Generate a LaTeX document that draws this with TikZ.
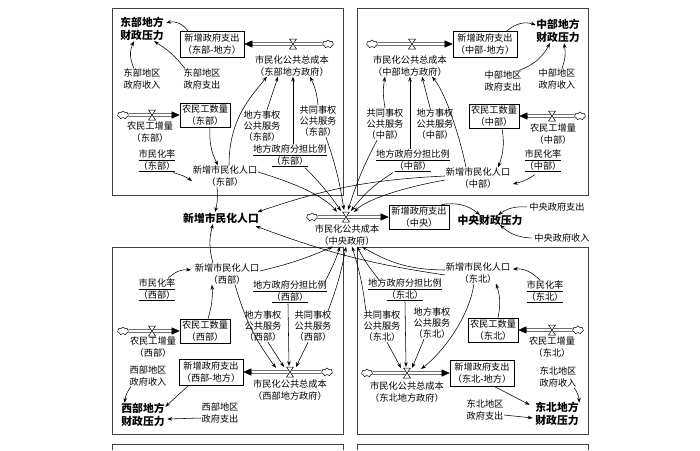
\documentclass[tikz,border=0pt]{standalone}
\usepackage{fontspec}
\setmainfont{Noto Sans CJK SC}
\usetikzlibrary{arrows.meta,shapes.symbols,calc}
\newcommand\sdpipe[2]{\draw[pipe,shorten >=6pt] (#1) -- (#2);\draw[-{Triangle[length=8pt,width=7pt]},line width=0.5pt] ($(#2)!8pt!(#1)$) -- (#2);}
\newcommand\sdvalve[1]{\draw[fill=white,line width=0.5pt] ($(#1)+(-3.5,-5)$) -- ++(7,0) -- ++(-7,10) -- ++(7,0) -- cycle;}
\begin{document}
\begin{tikzpicture}[x=1pt,y=-1pt,
  txt/.style={align=center,font=\fontsize{9.2}{11.2}\selectfont,inner sep=0.5pt},
  bld/.style={align=center,font=\fontsize{10.8}{12.5}\selectfont\bfseries,inner sep=0.5pt},
  box/.style={txt,draw,line width=0.6pt,minimum width=64pt,minimum height=26pt},
  wbox/.style={txt,draw,line width=0.6pt,minimum width=50pt,minimum height=24pt},
  arr/.style={-{Stealth[length=5pt,width=3.6pt]},line width=0.55pt},
  frame/.style={draw=black!75,line width=0.7pt},
  pipe/.style={double,double distance=2.2pt,line width=0.5pt},
  cl/.style={cloud,draw,cloud puffs=7,aspect=1.5,minimum width=11pt,minimum height=8pt,inner sep=0pt,fill=white,line width=0.5pt}]
\useasboundingbox (0,0) rectangle (700,450);
% frames
\draw[frame] (112,8) rectangle (343,195);
\draw[frame] (357,8) rectangle (588,195);
\draw[frame] (112,247) rectangle (343,434);
\draw[frame] (357,247) rectangle (588,434);
\draw[frame] (112,450) -- (112,444) -- (343,444) -- (343,450);
\draw[frame] (357,450) -- (357,444) -- (588,444) -- (588,450);

% ---------- East (东部)
\node[bld] (edpress) at (142,29) {东部地方\\财政压力};
\node[box] (edbox) at (212,44) {新增政府支出\\（东部-地方）};
\node[cl] (edcl) at (328,44) {};
\coordinate (edv) at (293,44);
\node[txt] (edcost) at (292,66) {市民化公共总成本\\（东部地方政府）};
\node[txt] (edrev) at (142,79) {东部地区\\政府收入};
\node[txt] (edexp) at (202,79) {东部地区\\政府支出};
\node[wbox] (edw) at (205,115) {农民工数量\\（东部）};
\node[cl] (edcl2) at (123,115) {};
\coordinate (edwv) at (152,115);
\node[txt] (edinc) at (150,132) {农民工增量\\（东部）};
\node[txt] (edloc) at (262,126) {地方事权\\公共服务\\（东部）};
\node[txt] (edsh) at (318,121) {共同事权\\公共服务\\（东部）};
\node[txt] (edrat) at (290,156) {\underline{地方政府分担比例}\\\underline{（东部）}};
\node[txt] (edurb) at (157,161) {\underline{市民化率}\\\underline{（东部）}};
\node[txt] (edpop) at (225,176) {新增市民化人口\\（东部）};

% ---------- Central region (中部)
\node[bld] (cpress) at (558,31) {中部地方\\财政压力};
\node[box] (cbox) at (485,44) {新增政府支出\\（中部-地方）};
\node[cl] (ccl) at (372,44) {};
\coordinate (cv1) at (412,44);
\node[txt] (ccost) at (410,66) {市民化公共总成本\\（中部地方政府）};
\node[txt] (cexp) at (503,81) {中部地区\\政府支出};
\node[txt] (crev) at (557,79) {中部地区\\政府收入};
\node[wbox] (cw) at (494,116) {农民工数量\\（中部）};
\node[cl] (ccl2) at (580,116) {};
\coordinate (cwv) at (552,116);
\node[txt] (cinc) at (553,134) {农民工增量\\（中部）};
\node[txt] (csh) at (385,124) {共同事权\\公共服务\\（中部）};
\node[txt] (cloc) at (435,124) {地方事权\\公共服务\\（中部）};
\node[txt] (crat) at (413,161) {\underline{地方政府分担比例}\\\underline{（中部）}};
\node[txt] (cpop) at (478,178) {新增市民化人口\\（中部）};
\node[txt] (curb) at (543,161) {\underline{市民化率}\\\underline{（中部）}};

% ---------- Centre (中央)
\node[bld] (pop) at (221,218) {新增市民化人口};
\node[cl] (zcl) at (312,217) {};
\coordinate (zv) at (346,217);
\node[txt] (zcost) at (347,235) {市民化公共成本\\（中央政府）};
\node[txt,draw,line width=0.6pt,minimum width=60pt,minimum height=24pt] (zbox) at (419,217) {新增政府支出\\（中央）};
\node[bld] (zpress) at (490,220) {中央财政压力};
\node[txt] (zexp) at (557,207) {中央政府支出};
\node[txt] (zrev) at (562,238) {中央政府收入};

% ---------- West (西部)
\node[txt] (wpop) at (227,274) {新增市民化人口\\（西部）};
\node[txt] (wurb) at (157,290) {\underline{市民化率}\\\underline{（西部）}};
\node[txt] (wrat) at (290,292) {\underline{地方政府分担比例}\\\underline{（西部）}};
\node[txt] (wloc) at (263,326) {地方事权\\公共服务\\（西部）};
\node[txt] (wsh) at (313,326) {共同事权\\公共服务\\（西部）};
\node[wbox] (ww) at (205,331) {农民工数量\\（西部）};
\node[cl] (wcl2) at (123,331) {};
\coordinate (wwv) at (152,331);
\node[txt] (winc) at (153,347) {农民工增量\\（西部）};
\node[box] (wbox) at (211,372) {新增政府支出\\（西部-地方）};
\node[cl] (wcl) at (327,372) {};
\coordinate (wv) at (290,372);
\node[txt] (wcost) at (290,390) {市民化公共总成本\\（西部地方政府）};
\node[txt] (wrev) at (148,376) {西部地区\\政府收入};
\node[bld] (wpress) at (143,415) {西部地方\\财政压力};
\node[txt] (wexp) at (220,413) {西部地区\\政府支出};

% ---------- Northeast (东北)
\node[txt] (npop) at (478,273) {新增市民化人口\\（东北）};
\node[txt] (nurb) at (545,292) {\underline{市民化率}\\\underline{（东北）}};
\node[txt] (nrat) at (405,290) {\underline{地方政府分担比例}\\\underline{（东北）}};
\node[txt] (nsh) at (382,326) {共同事权\\公共服务\\（东北）};
\node[txt] (nloc) at (432,323) {地方事权\\公共服务\\（东北）};
\node[wbox] (nw) at (493,330) {农民工数量\\（东北）};
\node[cl] (ncl2) at (578,330) {};
\coordinate (nwv) at (552,330);
\node[txt] (ninc) at (552,347) {农民工增量\\（东北）};
\node[box] (nbox) at (482,373) {新增政府支出\\（东北-地方）};
\node[cl] (ncl) at (367,373) {};
\coordinate (nv) at (407,373);
\node[txt] (ncost) at (407,392) {市民化公共总成本\\（东北地方政府）};
\node[txt] (nrev) at (558,377) {东北地区\\政府收入};
\node[bld] (npress) at (557,414) {东北地方\\财政压力};
\node[txt] (nexp) at (485,410) {东北地区\\政府支出};

% ---------- pipes and valves
\sdpipe{edcl}{edbox.east} \sdvalve{edv}
\sdpipe{edcl2}{edw.west} \sdvalve{edwv}
\sdpipe{ccl}{cbox.west} \sdvalve{cv1}
\sdpipe{ccl2}{cw.east} \sdvalve{cwv}
\sdpipe{zcl}{zbox.west} \sdvalve{zv}
\sdpipe{wcl2}{ww.west} \sdvalve{wwv}
\sdpipe{wcl}{wbox.east} \sdvalve{wv}
\sdpipe{ncl2}{nw.east} \sdvalve{nwv}
\sdpipe{ncl}{nbox.west} \sdvalve{nv}

% ---------- East connectors
\draw[arr] ($(edbox.north west)+(8,0)$) to[bend right=35] ($(edpress.east)+(2,-6)$);
\draw[arr] ($(edrev.north)+(-8,0)$) to[bend left=25] ($(edpress.south)+(-8,0)$);
\draw[arr] ($(edexp.north west)+(2,0)$) to[bend right=10] ($(edpress.south)+(12,0)$);
\draw[arr] ($(edw.south)+(5,0)$) to[bend right=15] ($(edpop.north)+(-7,0)$);
\draw[arr] ($(edurb.south east)+(-3,0)$) to[bend left=10] ($(edpop.west)+(0,5)$);
\draw[arr] ($(edpop.north)+(4,0)$) .. controls +(0,-45) and +(-18,22) .. ($(edcost.south)+(-25,0)$);
\draw[arr] ($(edloc.north)+(5,0)$) -- ($(edcost.south)+(-14,0)$);
\draw[arr] ($(edrat.north)+(3,0)$) -- ($(edcost.south)+(1,0)$);
\draw[arr] (edsh.north) to[bend right=10] ($(edcost.south)+(18,0)$);
\draw[arr] ($(edpop.south)+(-8,0)$) to[bend left=10] ($(pop.north)+(-6,0)$);
\draw[arr] ($(edpop.east)+(0,-4)$) .. controls +(40,12) and +(-12,-15) .. ($(zv)+(-9,-5)$);
\draw[arr] ($(edrat.south)+(15,0)$) to[bend left=5] ($(zv)+(-5,-6)$);
\draw[arr] ($(edsh.south)+(8,0)$) to[bend left=5] ($(zv)+(-2,-7)$);

% ---------- Central region connectors
\draw[arr] ($(cbox.north east)+(-10,0)$) to[bend left=30] ($(cpress.west)+(0,-6)$);
\draw[arr] ($(cexp.north east)+(-3,0)$) to[bend right=20] ($(cpress.south)+(-8,0)$);
\draw[arr] ($(crev.north)+(5,0)$) to[bend right=15] ($(cpress.south)+(6,0)$);
\draw[arr] ($(cw.south)+(8,0)$) to[bend left=15] ($(cpop.north)+(20,0)$);
\draw[arr] ($(curb.south)+(-8,2)$) to[bend left=10] ($(cpop.east)+(2,6)$);
\draw[arr] ($(cpop.north)+(-12,0)$) .. controls +(-5,-25) and +(15,18) .. ($(ccost.south)+(22,0)$);
\draw[arr] ($(cloc.north)+(-5,0)$) -- ($(ccost.south)+(12,0)$);
\draw[arr] ($(crat.north)+(-3,0)$) -- (ccost.south);
\draw[arr] (csh.north) to[bend left=10] ($(ccost.south)+(-25,0)$);
\draw[arr] ($(cpop.west)+(0,-2)$) to[bend right=8] ($(pop.east)+(-2,-6)$);
\draw[arr] ($(cpop.west)+(0,2)$) .. controls +(-45,8) and +(12,-12) .. ($(zv)+(8,-5)$);
\draw[arr] ($(crat.south)+(-20,0)$) to[bend right=10] ($(zv)+(5,-6)$);
\draw[arr] ($(csh.south)+(-8,0)$) to[bend right=5] ($(zv)+(2,-7)$);

% ---------- Centre connectors
\draw[arr] ($(zbox.north east)+(-8,0)$) to[bend left=25] ($(zpress.north)+(-10,1)$);
\draw[arr] ($(zexp.west)+(-2,0)$) to[bend right=20] ($(zpress.north)+(8,1)$);
\draw[arr] ($(zrev.west)+(-2,0)$) to[bend left=20] ($(zpress.south)+(10,-1)$);

% ---------- West connectors
\draw[arr] ($(wurb.north east)+(-8,0)$) to[bend left=25] ($(wpop.west)+(-3,-4)$);
\draw[arr] ($(wpop.north)+(-14,0)$) to[bend left=15] ($(pop.south)+(-8,0)$);
\draw[arr] ($(ww.north)+(3,0)$) to[bend right=10] ($(wpop.south)+(-15,0)$);
\draw[arr] ($(wpop.south)+(8,0)$) to[bend right=10] ($(wv)+(-14,-4)$);
\draw[arr] ($(wloc.south)+(5,0)$) -- ($(wv)+(-6,-5)$);
\draw[arr] ($(wrat.south)+(-2,0)$) -- ($(wv)+(-1,-6)$);
\draw[arr] ($(wsh.south)+(-5,0)$) -- ($(wv)+(6,-5)$);
\draw[arr] ($(wpop.east)+(0,-3)$) to[bend right=5] ($(zcost.south)+(-14,1)$);
\draw[arr] ($(wrat.north east)+(-3,2)$) to[bend right=5] ($(zcost.south)+(-7,1)$);
\draw[arr] ($(wsh.north east)+(-4,1)$) to[bend right=5] ($(zcost.south)+(-1,1)$);
\draw[arr] ($(wbox.south west)+(10,0)$) -- ($(wpress.north east)+(0,4)$);
\draw[arr] ($(wrev.south west)+(2,0)$) to[bend right=15] ($(wpress.north west)+(4,0)$);
\draw[arr] ($(wexp.west)+(0,5)$) -- ($(wpress.east)+(2,4)$);

% ---------- Northeast connectors
\draw[arr] ($(nurb.north)+(-5,0)$) to[bend right=25] ($(npop.east)+(2,-4)$);
\draw[arr] ($(nw.north)+(5,0)$) to[bend right=15] ($(npop.south)+(18,0)$);
\draw[arr] ($(npop.south)+(-4,0)$) .. controls +(-5,35) and +(20,-15) .. ($(nv)+(14,-4)$);
\draw[arr] ($(nsh.south)+(5,0)$) -- ($(nv)+(-6,-5)$);
\draw[arr] (nrat.south) -- ($(nv)+(-1,-6)$);
\draw[arr] ($(nloc.south)+(-8,0)$) -- ($(nv)+(5,-5)$);
\draw[arr] ($(npop.west)+(0,-3)$) to[bend left=15] ($(zcost.south)+(15,1)$);
\draw[arr] ($(npop.west)+(0,2)$) to[bend left=6] ($(pop.east)+(-4,8)$);
\draw[arr] ($(nrat.north west)+(12,2)$) to[bend left=5] ($(zcost.south)+(10,1)$);
\draw[arr] ($(nsh.north west)+(3,1)$) to[bend right=5] ($(zcost.south)+(5,1)$);
\draw[arr] ($(nbox.south)+(12,0)$) -- ($(npress.north west)+(-5,3)$);
\draw[arr] ($(nrev.south east)+(-3,0)$) to[bend left=15] ($(npress.north east)+(0,1)$);
\draw[arr] ($(nexp.east)+(0,5)$) -- ($(npress.west)+(-2,4)$);
\end{tikzpicture}
\end{document}
